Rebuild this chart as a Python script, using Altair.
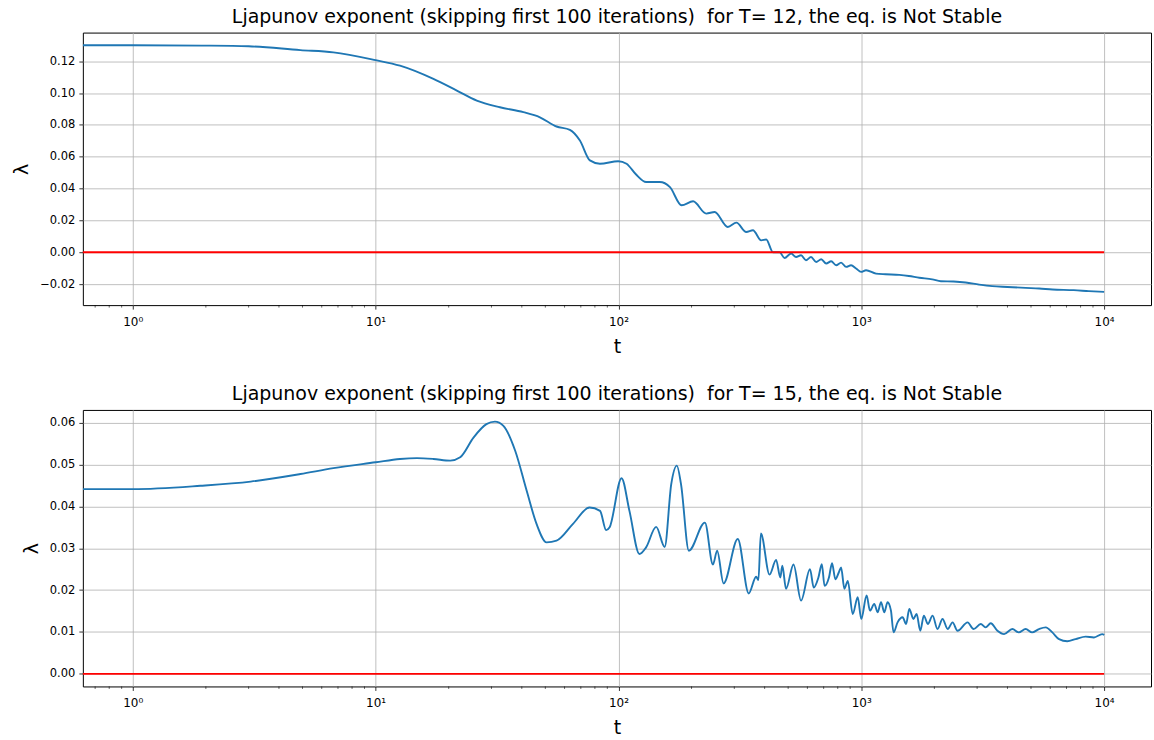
import altair as alt
import pandas as pd

T_MIN, T_MAX = 0.623, 15600

# Panel 1: T = 12
t12_t = [0.623, 1.0, 2.0, 3.0, 4.9, 6.7, 10.0, 12.6, 17.3, 21.6, 26.1, 32.5, 40.6, 47.5,
         55.6, 63.1, 69.4, 76.3, 83.9, 99.8, 108, 118, 130, 148, 163, 182, 203, 230, 249,
         282, 306, 336, 358, 387, 406, 433, 461, 483, 514, 539, 565, 592, 621, 652, 684,
         717, 752, 788, 826, 866, 908, 952, 998, 1046, 1150, 1260, 1435, 1570, 1733, 1960,
         2128, 2400, 2690, 3056, 3460, 4000, 4750, 5400, 6130, 7500, 8650, 10000]
t12_lam = [0.1300, 0.1300, 0.1298, 0.1294, 0.1270, 0.1256, 0.1207, 0.1172, 0.1089, 0.1016,
           0.0953, 0.0911, 0.0880, 0.0848, 0.0790, 0.0769, 0.0702, 0.0577, 0.0556, 0.0572,
           0.0556, 0.0490, 0.0441, 0.0441, 0.0409, 0.0295, 0.0320, 0.0243, 0.0253, 0.0159,
           0.0186, 0.0127, 0.0138, 0.0075, 0.0080, 0.0000, 0.0000, -0.0036, -0.0008, -0.0030,
           -0.0019, -0.0050, -0.0030, -0.0061, -0.0044, -0.0071, -0.0056, -0.0082, -0.0065,
           -0.0092, -0.0082, -0.0102, -0.0123, -0.0113, -0.0134, -0.0138, -0.0142, -0.0149,
           -0.0160, -0.0170, -0.0182, -0.0184, -0.0190, -0.0203, -0.0213, -0.0218, -0.0224,
           -0.0228, -0.0234, -0.0238, -0.0244, -0.0249]

# Panel 2: T = 15
t15_t = [0.623, 1.0, 1.9, 3.06, 4.9, 6.7, 10.0, 12.6, 14.8, 17.3, 20.3, 22.3, 25.3, 28.6,
         31.0, 33.6, 37.6, 41.9, 46, 50.6, 55.6, 65, 76, 84, 89, 92, 103, 111, 122, 130,
         143, 155, 165, 174, 181, 195, 227, 245, 255, 271, 310, 344, 369, 377, 386, 419,
         446, 464, 473, 490, 526, 565, 615, 637, 666, 688, 706, 736, 758, 782, 808, 826,
         852, 880, 922, 967, 1000, 1052, 1086, 1131, 1168, 1206, 1244, 1283, 1325, 1358,
         1411, 1480, 1530, 1577, 1640, 1690, 1750, 1810, 1880, 1966, 2060, 2161, 2270,
         2377, 2490, 2741, 2900, 3105, 3250, 3413, 3636, 3874, 4190, 4450, 4752, 5050,
         5395, 5750, 6120, 6520, 7050, 7630, 8390, 9080, 9820, 10000]
t15_lam = [0.0441, 0.0441, 0.0449, 0.0459, 0.0477, 0.0491, 0.0505, 0.0513, 0.0515, 0.0513,
           0.0509, 0.0517, 0.0564, 0.0596, 0.0602, 0.0592, 0.0532, 0.0437, 0.0358, 0.0314,
           0.0318, 0.0358, 0.0397, 0.0389, 0.0343, 0.0350, 0.0467, 0.0389, 0.0286, 0.0302,
           0.0351, 0.0303, 0.0453, 0.0497, 0.0453, 0.0294, 0.0361, 0.0261, 0.0294, 0.0216,
           0.0322, 0.0192, 0.0232, 0.0224, 0.0335, 0.0237, 0.0272, 0.0230, 0.0258, 0.0203,
           0.0261, 0.0175, 0.0250, 0.0206, 0.0230, 0.0262, 0.0210, 0.0230, 0.0264, 0.0226,
           0.0242, 0.0254, 0.0203, 0.0222, 0.0143, 0.0183, 0.0131, 0.0187, 0.0151, 0.0167,
           0.0147, 0.0171, 0.0147, 0.0171, 0.0151, 0.0099, 0.0123, 0.0135, 0.0119, 0.0155,
           0.0131, 0.0143, 0.0103, 0.0139, 0.0119, 0.0139, 0.0107, 0.0131, 0.0107, 0.0123,
           0.0103, 0.0123, 0.0107, 0.0119, 0.0111, 0.0121, 0.0103, 0.0095, 0.0107, 0.0099,
           0.0107, 0.0099, 0.0107, 0.0111, 0.0099, 0.0083, 0.0078, 0.0083, 0.0089, 0.0087,
           0.0095, 0.0093]

major_ticks = [1, 10, 100, 1000, 10000]
minor_ticks = [0.7, 0.8, 0.9] + [m * 10 ** k for k in range(0, 4) for m in range(2, 10)]

titles = ["Ljapunov exponent (skipping first 100 iterations)\u00a0 for T= 12, the eq. is Not Stable",
          "Ljapunov exponent (skipping first 100 iterations)\u00a0 for T= 15, the eq. is Not Stable"]

W = 1070
FONT = "DejaVu Sans"
LABEL_EXPR = "'10' + ['\u2070','\u00b9','\u00b2','\u00b3','\u2074'][round(log(datum.value)/LN10)]"


def panel(t, lam, title, ydomain, yticks, h):
    df = pd.DataFrame({"t": t, "lam": lam})
    xscale = alt.Scale(type="log", domain=[T_MIN, T_MAX], nice=False)
    xaxis = alt.Axis(values=major_ticks, labelExpr=LABEL_EXPR, title="t", grid=True,
                     tickSize=4, labelPadding=7, titleFontSize=19, titlePadding=10,
                     titleFontWeight="normal", labelOverlap=False, tickCount=20,
                     labelFontSize=12)
    yscale = alt.Scale(domain=ydomain, nice=False, zero=False)
    yaxis = alt.Axis(values=yticks, format=".2f", title="λ", grid=True, tickSize=4,
                     titleFontSize=19, titlePadding=8, labelPadding=4,
                     titleFontWeight="normal", labelOverlap=False, tickCount=20)
    line = alt.Chart(df).mark_line(color="#1f77b4", strokeWidth=1.9, interpolate="monotone",
                                   clip=True).encode(
        x=alt.X("t:Q", scale=xscale, axis=xaxis),
        y=alt.Y("lam:Q", scale=yscale, axis=yaxis),
    )
    zero = alt.Chart(pd.DataFrame({"t": [T_MIN, 10000], "lam": [0.0, 0.0]})).mark_line(
        color="#ff0000", strokeWidth=1.9).encode(x="t:Q", y="lam:Q")
    minor = alt.Chart(pd.DataFrame({"t": minor_ticks})).mark_rule(
        color="black", strokeWidth=0.6).encode(
        x="t:Q", y=alt.value(h), y2=alt.value(h + 2.5))
    return alt.layer(line, zero, minor).properties(
        width=W, height=h,
        title=alt.TitleParams(title, fontSize=19, font=FONT, fontWeight="normal",
                              color="black", offset=6))


p1 = panel(t12_t, t12_lam, titles[0], [-0.0332, 0.138],
           [-0.02, 0.0, 0.02, 0.04, 0.06, 0.08, 0.10, 0.12], 273)
p2 = panel(t15_t, t15_lam, titles[1], [-0.003, 0.063],
           [0.0, 0.01, 0.02, 0.03, 0.04, 0.05, 0.06], 277)

chart = alt.vconcat(p1, p2, spacing=27).properties(
    padding={"left": 12, "top": 6, "right": 2, "bottom": 2},
    background="white",
).configure_view(stroke="black", strokeWidth=1).configure_axis(
    labelFont=FONT, titleFont=FONT, labelFontSize=11.5, labelColor="black",
    titleColor="black", titleFontWeight="normal", gridColor="#b0b0b0",
    gridWidth=0.8, domain=False, tickColor="black", tickWidth=0.8
)

chart.save("out.html", embed_options={"renderer": "svg", "actions": False})
